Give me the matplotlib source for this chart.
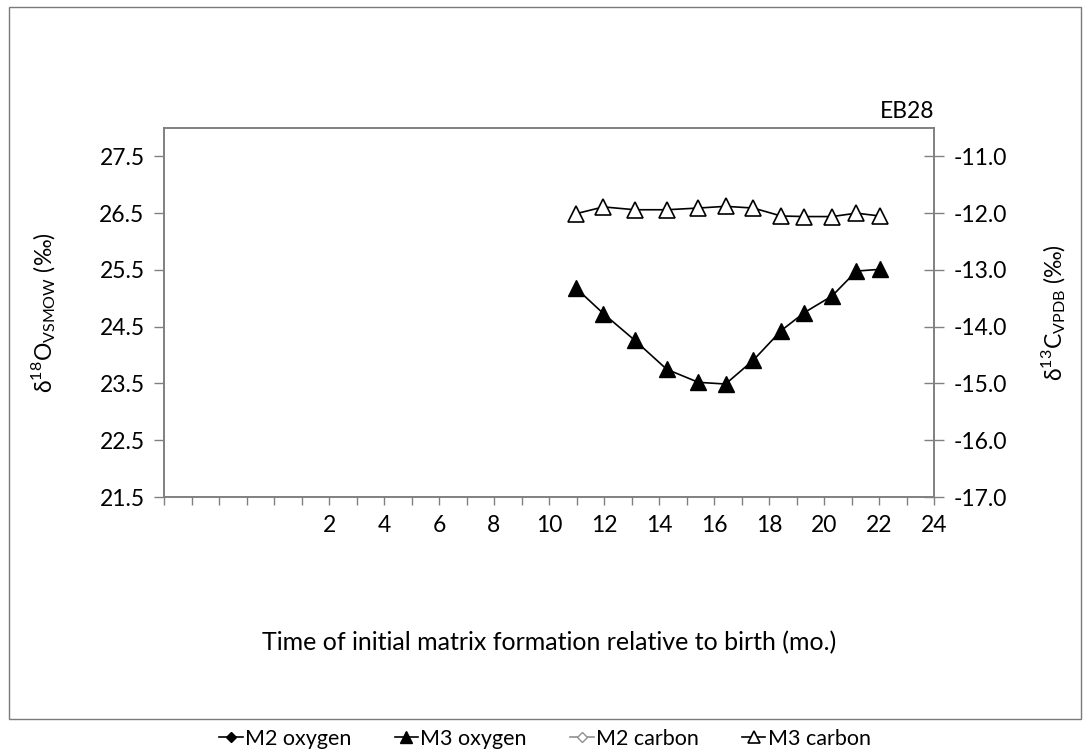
import numpy as np
import matplotlib
matplotlib.use('Agg')
from matplotlib import pyplot as plt
from matplotlib.patches import Rectangle

plt.rcParams['font.family'] = ['Lato', 'DejaVu Sans']
plt.rcParams['mathtext.fontset'] = 'custom'
plt.rcParams['mathtext.rm'] = 'Lato'

## data
months = [10.98, 11.98, 13.12, 14.28, 15.43, 16.42, 17.43, 18.44, 19.29, 20.29, 21.18, 22.03]
m3_oxygen = [25.18, 24.73, 24.26, 23.75, 23.52, 23.49, 23.91, 24.43, 24.75, 25.04, 25.48, 25.51]
m3_carbon = [-12.01, -11.89, -11.94, -11.94, -11.91, -11.88, -11.91, -12.05, -12.06, -12.06, -12.00, -12.05]
m2_months = []
m2_oxygen = []
m2_carbon = []

oxy_ticks = [21.5, 22.5, 23.5, 24.5, 25.5, 26.5, 27.5]
carb_ticks = [-17.0, -16.0, -15.0, -14.0, -13.0, -12.0, -11.0]
x_ticks = list(range(-4, 25))

spine_col = '#808080'
fs = 16.5

fig = plt.figure(figsize=(10.9, 7.55), dpi=100)
ax = fig.add_axes([164/1090, 1-497/755, (934-164)/1090, (497-128)/755])
ax2 = ax.twinx()

## outer chart border
fig.patches.append(Rectangle((9/1090, 1-719/755), (1081-9)/1090, (719-7)/755,
                             transform=fig.transFigure, fill=False,
                             edgecolor='#7a7a7a', lw=1.0))

l1, = ax.plot(m2_months, m2_oxygen, '-', color='black', marker='D', ms=7,
              mfc='black', mec='black', lw=1.2, label='M2 oxygen')
l2, = ax.plot(months, m3_oxygen, '-', color='black', marker='^', ms=12,
              mfc='black', mec='black', lw=1.2, label='M3 oxygen')
l3, = ax2.plot(m2_months, m2_carbon, '-', color='#909090', marker='D', ms=7,
               mfc='white', mec='#909090', lw=1.2, label='M2 carbon')
l4, = ax2.plot(months, m3_carbon, '-', color='black', marker='^', ms=12,
               mfc='white', mec='black', mew=1.2, lw=1.2, label='M3 carbon')

ax.set_xlim(-4, 24)
ax.set_ylim(21.5, 28.0)
ax2.set_ylim(-17.0, -10.5)

ax.set_xticks(x_ticks)
ax.set_xticklabels([str(v) if (v > 0 and v % 2 == 0) else '' for v in x_ticks])
ax.set_yticks(oxy_ticks)
ax.set_yticklabels([f'{v:.1f}' for v in oxy_ticks])
ax2.set_yticks(carb_ticks)
ax2.set_yticklabels([f'{v:.1f}' for v in carb_ticks])

ax.tick_params(axis='x', direction='out', length=6, width=1, color=spine_col,
               labelsize=fs, pad=7)
ax.tick_params(axis='y', direction='out', length=7, width=1, color=spine_col,
               labelsize=fs, pad=7)
ax2.tick_params(axis='y', direction='inout', length=14, width=1, color=spine_col,
                labelsize=fs, pad=7)

for a in (ax, ax2):
    for s in a.spines.values():
        s.set_color(spine_col)
        s.set_linewidth(1.2)

ax.set_ylabel(r'δ$^{\mathregular{18}}$O$_{\mathregular{VSMOW}}$ (‰)', fontsize=fs, labelpad=30)
ax2.set_ylabel(r'δ$^{\mathregular{13}}$C$_{\mathregular{VPDB}}$ (‰)', fontsize=fs,
               rotation=90, labelpad=23)
ax.set_xlabel('Time of initial matrix formation relative to birth (mo.)', fontsize=18,
              labelpad=68)
ax.text(1.0, 1.015, 'EB28', transform=ax.transAxes, ha='right', va='bottom', fontsize=fs)

fig.legend(handles=[l1, l2, l3, l4], loc='center', bbox_to_anchor=(545/1090, 1-739/755),
           ncol=4, frameon=False, fontsize=15.5, handlelength=1.1, handletextpad=0.1,
           columnspacing=2.0, markerscale=0.75)

plt.savefig('out.png', dpi=100)
